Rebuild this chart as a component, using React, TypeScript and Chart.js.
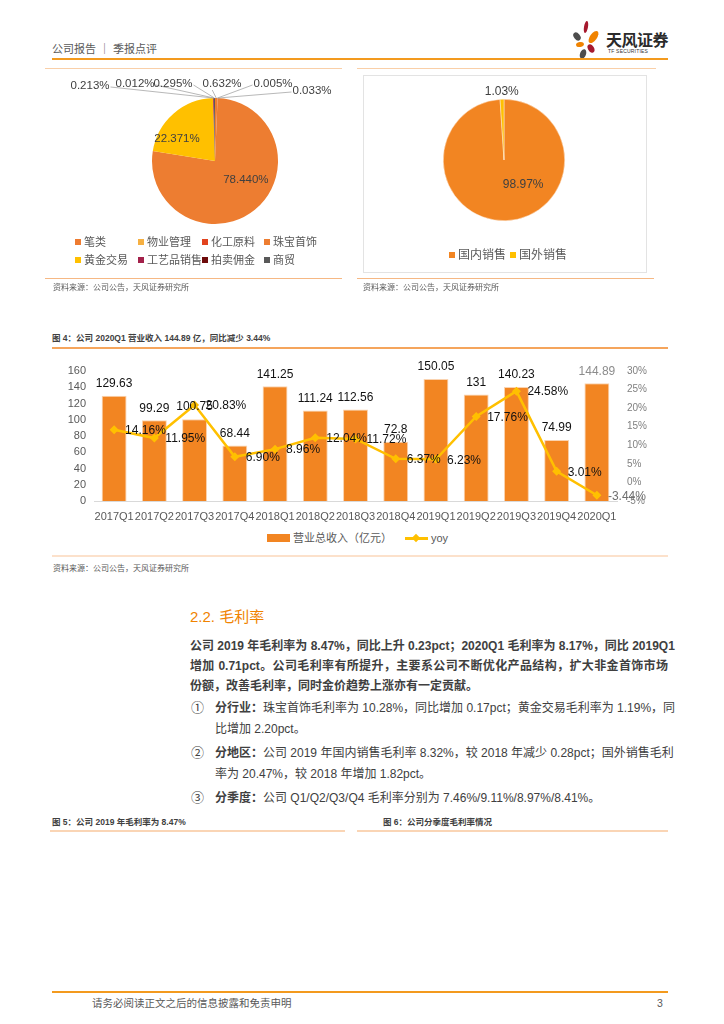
import React, { useEffect, useRef } from "react";
import { Chart, registerables } from "chart.js";

Chart.register(...registerables);

const FONT = '"Liberation Sans", "Noto Sans CJK SC", Arial, sans-serif';

// ---- Pie 1: revenue mix by segment ----
const segmentNames = ["笔类", "物业管理", "化工原料", "珠宝首饰", "黄金交易", "工艺品销售", "拍卖佣金", "商贸"];
const segmentShares = [0.632, 0.005, 0.033, 78.44, 22.371, 0.213, 0.012, 0.295];
const segmentColors = ["#EE7B30", "#F6B042", "#E2431E", "#ED7D31", "#FFC000", "#A3214A", "#6E0B0B", "#595959"];

// ---- Pie 2: domestic vs overseas ----
const regionNames = ["国内销售", "国外销售"];
const regionShares = [98.97, 1.03];
const regionColors = ["#F28522", "#FFC000"];

// ---- Figure 4: revenue and yoy ----
const quarters = [
  "2017Q1", "2017Q2", "2017Q3", "2017Q4",
  "2018Q1", "2018Q2", "2018Q3", "2018Q4",
  "2019Q1", "2019Q2", "2019Q3", "2019Q4",
  "2020Q1",
];
const revenue = [129.63, 99.29, 100.75, 68.44, 141.25, 111.24, 112.56, 72.8, 150.05, 131, 140.23, 74.99, 144.89];
const yoy = [14.16, 11.95, 20.83, 6.9, 8.96, 12.04, 11.72, 6.37, 6.23, 17.76, 24.58, 3.01, -3.44];
const revenueAxis = { min: 0, max: 160, step: 20 };
const yoyAxis = { min: -5, max: 30, step: 5 };
const revenueSeriesName = "营业总收入（亿元）";
const yoySeriesName = "yoy";

const pieLabelPlugin = {
  id: "pieLabels",
  afterDatasetsDraw(chart: any, _args: any, opts: any) {
    const ctx = chart.ctx;
    const meta = chart.getDatasetMeta(0);
    const values = chart.data.datasets[0].data as number[];
    ctx.save();
    ctx.font = opts.font;
    ctx.fillStyle = opts.color;
    ctx.textBaseline = "middle";
    ctx.textAlign = "center";
    meta.data.forEach((arc: any, i: number) => {
      const p = arc.getProps(["x", "y", "startAngle", "endAngle", "outerRadius"], true);
      const mid = (p.startAngle + p.endAngle) / 2;
      const text = values[i].toFixed(opts.decimals) + "%";
      const callout = opts.callouts && opts.callouts[i];
      if (callout) {
        const ax = p.x + Math.cos(mid) * p.outerRadius;
        const ay = p.y + Math.sin(mid) * p.outerRadius;
        const tx = p.x + callout[0];
        const ty = p.y + callout[1];
        const w = ctx.measureText(text).width;
        let sx: number, sy: number;
        if (tx + w / 2 < ax - 10) {
          sx = tx + w / 2 + 1;
          sy = ty + 1;
        } else if (tx - w / 2 > ax + 10) {
          sx = tx - w / 2 - 1;
          sy = ty + 1;
        } else {
          sx = tx - w / 4;
          sy = ty + 6;
        }
        ctx.strokeStyle = opts.leaderColor;
        ctx.lineWidth = 0.8;
        ctx.beginPath();
        ctx.moveTo(sx, sy);
        ctx.lineTo(ax, ay);
        ctx.stroke();
        ctx.fillText(text, tx, ty);
      } else if (opts.outside && opts.outside.includes(i)) {
        const r = p.outerRadius + opts.outsideGap;
        ctx.fillText(text, p.x + Math.cos(mid) * r, p.y + Math.sin(mid) * r);
      } else {
        const r = p.outerRadius * opts.insideFrac;
        const n = (opts.nudge && opts.nudge[i]) || [0, 0];
        ctx.fillText(text, p.x + Math.cos(mid) * r + n[0], p.y + Math.sin(mid) * r + n[1]);
      }
    });
    ctx.restore();
  },
};

const comboLabelPlugin = {
  id: "comboLabels",
  afterDatasetsDraw(chart: any) {
    const ctx = chart.ctx;
    ctx.save();
    ctx.font = '12px "Liberation Sans", Arial, sans-serif';
    ctx.textBaseline = "middle";
    const bars = chart.getDatasetMeta(0).data;
    const barVals = chart.data.datasets[0].data as number[];
    ctx.textAlign = "center";
    bars.forEach((b: any, i: number) => {
      ctx.fillStyle = i === bars.length - 1 ? "#8C8C8C" : "#111";
      ctx.fillText(String(barVals[i]), b.x, b.y - 12);
    });
    const pts = chart.getDatasetMeta(1).data;
    const lineVals = chart.data.datasets[1].data as number[];
    ctx.textAlign = "left";
    pts.forEach((p: any, i: number) => {
      ctx.fillStyle = i === pts.length - 1 ? "#6E6E6E" : "#111";
      ctx.fillText(lineVals[i].toFixed(2) + "%", p.x + 11, p.y + 1);
    });
    ctx.restore();
  },
};

function ChartBox({ style, build }: { style: React.CSSProperties; build: (c: HTMLCanvasElement) => Chart }) {
  const ref = useRef<HTMLCanvasElement>(null);
  useEffect(() => {
    const ch = build(ref.current as HTMLCanvasElement);
    return () => ch.destroy();
  }, []);
  return (
    <div style={{ position: "absolute", ...style }}>
      <canvas ref={ref} />
    </div>
  );
}

function buildSegmentPie(c: HTMLCanvasElement) {
  return new Chart(c, {
    type: "pie",
    data: {
      labels: segmentNames,
      datasets: [{ data: segmentShares, backgroundColor: segmentColors, borderWidth: 0 }],
    },
    options: {
      responsive: true,
      maintainAspectRatio: false,
      animation: false,
      layout: { padding: { left: 107, right: 67, top: 28, bottom: 11 } },
      plugins: {
        legend: { display: false },
        tooltip: { enabled: false },
        pieLabels: {
          font: '11.5px "Liberation Sans", Arial, sans-serif',
          color: "#404040",
          leaderColor: "#A6A6A6",
          decimals: 3,
          insideFrac: 0.6,
          nudge: { 3: [7, -10], 4: [-13, 6] },
          callouts: {
            0: [7, -77],
            1: [58, -77],
            2: [97, -70],
            5: [-125, -75],
            6: [-80, -77],
            7: [-42, -77],
          },
        },
      } as any,
    },
    plugins: [pieLabelPlugin],
  });
}

function buildRegionPie(c: HTMLCanvasElement) {
  return new Chart(c, {
    type: "pie",
    data: {
      labels: regionNames,
      datasets: [{ data: regionShares, backgroundColor: regionColors, borderWidth: 0.5, borderColor: "#FDE9D6" }],
    },
    options: {
      responsive: true,
      maintainAspectRatio: false,
      animation: false,
      layout: { padding: { left: 80, right: 81, top: 24, bottom: 51 } },
      plugins: {
        legend: { display: false },
        tooltip: { enabled: false },
        pieLabels: {
          font: '12px "Liberation Sans", Arial, sans-serif',
          color: "#404040",
          leaderColor: "#A6A6A6",
          decimals: 2,
          insideFrac: 0.6,
          outside: [1],
          outsideGap: 8,
          nudge: { 0: [18, -12] },
        },
      } as any,
    },
    plugins: [pieLabelPlugin],
  });
}

function buildCombo(c: HTMLCanvasElement) {
  return new Chart(c, {
    type: "bar",
    data: {
      labels: quarters,
      datasets: [
        {
          type: "bar",
          label: revenueSeriesName,
          data: revenue,
          backgroundColor: "#F28522",
          borderColor: "#FAD3B0",
          borderWidth: 1,
          yAxisID: "y",
          order: 2,
          categoryPercentage: 1,
          barPercentage: 0.62,
        } as any,
        {
          type: "line",
          label: yoySeriesName,
          data: yoy,
          borderColor: "#FFC000",
          backgroundColor: "#FFC000",
          borderWidth: 2.5,
          pointStyle: "rectRot",
          pointRadius: 4.5,
          pointBorderWidth: 0,
          yAxisID: "y2",
          order: 1,
          tension: 0,
        } as any,
      ],
    },
    options: {
      responsive: true,
      maintainAspectRatio: false,
      animation: false,
      layout: { padding: { top: 10, left: 0, right: 0, bottom: 0 } },
      plugins: { legend: { display: false }, tooltip: { enabled: false } },
      scales: {
        x: {
          grid: { display: false, drawTicks: false },
          border: { color: "#D9D9D9", width: 1 },
          ticks: {
            color: "#595959",
            font: { size: 11, family: FONT },
            maxRotation: 0,
            minRotation: 0,
            autoSkip: false,
            padding: 9,
          },
          afterFit: (s: any) => {
            s.height = 24;
          },
        },
        y: {
          position: "left",
          min: revenueAxis.min,
          max: revenueAxis.max,
          grid: { display: false, drawTicks: false },
          border: { display: false },
          ticks: { stepSize: revenueAxis.step, color: "#595959", font: { size: 11, family: FONT }, padding: 8 },
          afterFit: (s: any) => {
            s.width = 42;
          },
        },
        y2: {
          position: "right",
          min: yoyAxis.min,
          max: yoyAxis.max,
          grid: { display: false, drawTicks: false },
          border: { display: false },
          ticks: {
            stepSize: yoyAxis.step,
            color: "#808080",
            font: { size: 10, family: FONT },
            padding: 10,
            callback: (v: any) => v + "%",
          },
          afterFit: (s: any) => {
            s.width = 51;
          },
        },
      } as any,
    },
    plugins: [comboLabelPlugin],
  });
}

const Txt = ({
  x,
  y,
  size,
  children,
  style,
}: {
  x: number;
  y: number;
  size: number;
  children: React.ReactNode;
  style?: React.CSSProperties;
}) => (
  <div
    style={{
      position: "absolute",
      left: x,
      top: y - size * 0.75,
      fontSize: size,
      lineHeight: `${size * 1.5}px`,
      whiteSpace: "nowrap",
      fontFamily: FONT,
      ...style,
    }}
  >
    {children}
  </div>
);

const HLine = ({ x1, x2, y, h, color }: { x1: number; x2: number; y: number; h: number; color: string }) => (
  <div style={{ position: "absolute", left: x1, top: y - h / 2, width: x2 - x1, height: h, background: color }} />
);

const Petal = ({ x, y, w, h, r, c }: { x: number; y: number; w: number; h: number; r: number; c: string }) => (
  <div
    style={{
      position: "absolute",
      left: x - w / 2,
      top: y - h / 2,
      width: w,
      height: h,
      borderRadius: "50%",
      background: c,
      transform: `rotate(${r}deg)`,
    }}
  />
);

const segLegendCols = [78, 141, 205, 267];
const segLegendRows = [242, 260];

export default function App() {
  const textColor = "#404040";
  const paraStyle: React.CSSProperties = {
    width: 478,
    textAlign: "justify",
    textAlignLast: "justify",
    color: textColor,
    fontWeight: 700,
  };
  const listStyle: React.CSSProperties = {
    width: 453,
    textAlign: "justify",
    textAlignLast: "justify",
    color: textColor,
  };
  return (
    <div
      style={{
        position: "fixed",
        left: 0,
        top: 0,
        width: 724,
        height: 1024,
        background: "#fff",
        overflow: "hidden",
        fontFamily: FONT,
      }}
    >
      {/* header */}
      <Txt x={52} y={49} size={11} style={{ color: "#595959" }}>
        公司报告 ｜ 季报点评
      </Txt>
      <Petal x={586} y={27} w={4} h={12} r={10} c="#A6192E" />
      <Petal x={577} y={36} w={6} h={9} r={-40} c="#4D4D4D" />
      <Petal x={593} y={37} w={7} h={14} r={35} c="#F08300" />
      <Petal x={580} y={44} w={8} h={5} r={-10} c="#F08300" />
      <Petal x={591} y={48} w={6} h={9} r={-30} c="#A6192E" />
      <Petal x={583} y={54} w={6} h={10} r={20} c="#4D4D4D" />
      <Txt x={606} y={41} size={16} style={{ color: "#2B2B2B", fontWeight: 700, letterSpacing: -0.5 }}>
        天风证券
      </Txt>
      <Txt x={608} y={52} size={5} style={{ color: "#333", letterSpacing: 0.2 }}>
        TF SECURITIES
      </Txt>
      <HLine x1={52} x2={668} y={59} h={2.5} color="#F39A1E" />

      <HLine x1={45} x2={342} y={68} h={1} color="#F9CFA8" />
      <HLine x1={357} x2={656} y={68} h={1} color="#F9CFA8" />

      {/* pie 1 */}
      <ChartBox style={{ left: 45, top: 70, width: 300, height: 165 }} build={buildSegmentPie} />
      {segmentNames.map((n, i) => (
        <div key={n}>
          <div
            style={{
              position: "absolute",
              left: segLegendCols[i % 4] - 3,
              top: segLegendRows[Math.floor(i / 4)] - 3,
              width: 6,
              height: 6,
              background: segmentColors[i],
            }}
          />
          <Txt x={segLegendCols[i % 4] + 6} y={segLegendRows[Math.floor(i / 4)]} size={11} style={{ color: "#595959" }}>
            {n}
          </Txt>
        </div>
      ))}
      <HLine x1={45} x2={342} y={278} h={1} color="#F6B884" />
      <Txt x={53} y={288} size={8} style={{ color: "#595959" }}>
        资料来源：公司公告，天风证券研究所
      </Txt>

      {/* pie 2 */}
      <div
        style={{
          position: "absolute",
          left: 363,
          top: 75,
          width: 282,
          height: 196,
          border: "1px solid #E3E3E3",
        }}
      />
      <ChartBox style={{ left: 363, top: 75, width: 283, height: 197 }} build={buildRegionPie} />
      {regionNames.map((n, i) => (
        <div key={n}>
          <div
            style={{
              position: "absolute",
              left: [452, 513][i] - 3,
              top: 255 - 3,
              width: 6,
              height: 6,
              background: regionColors[i],
            }}
          />
          <Txt x={[452, 513][i] + 6} y={255} size={12} style={{ color: "#595959" }}>
            {n}
          </Txt>
        </div>
      ))}
      <HLine x1={357} x2={654} y={278} h={1} color="#F6B884" />
      <Txt x={363} y={288} size={8} style={{ color: "#595959" }}>
        资料来源：公司公告，天风证券研究所
      </Txt>

      {/* figure 4 */}
      <Txt x={52} y={338} size={8.5} style={{ color: "#404040", fontWeight: 700 }}>
        图 4：公司 2020Q1 营业收入 144.89 亿，同比减少 3.44%
      </Txt>
      <HLine x1={52} x2={668} y={348} h={1.5} color="#F5A55C" />
      <ChartBox style={{ left: 52, top: 355, width: 616, height: 170 }} build={buildCombo} />
      <div style={{ position: "absolute", left: 267, top: 534, width: 23, height: 8, background: "#F28522" }} />
      <Txt x={293} y={538} size={11} style={{ color: "#595959" }}>
        {revenueSeriesName}
      </Txt>
      <div style={{ position: "absolute", left: 405, top: 537, width: 23, height: 2.5, background: "#FFC000" }} />
      <div
        style={{
          position: "absolute",
          left: 413,
          top: 535,
          width: 6,
          height: 6,
          background: "#FFC000",
          transform: "rotate(45deg)",
        }}
      />
      <Txt x={431} y={538} size={11} style={{ color: "#595959" }}>
        {yoySeriesName}
      </Txt>
      <HLine x1={52} x2={668} y={556} h={2} color="#FCE1CB" />
      <Txt x={53} y={569} size={8} style={{ color: "#595959" }}>
        资料来源：公司公告，天风证券研究所
      </Txt>

      {/* section text */}
      <Txt x={190} y={617} size={15} style={{ color: "#F08300" }}>
        2.2. 毛利率
      </Txt>
      <Txt x={190} y={646} size={12} style={paraStyle}>
        公司 2019 年毛利率为 8.47%，同比上升 0.23pct；2020Q1 毛利率为 8.17%，同比 2019Q1
      </Txt>
      <Txt x={190} y={666} size={12} style={paraStyle}>
        增加 0.71pct。公司毛利率有所提升，主要系公司不断优化产品结构，扩大非金首饰市场
      </Txt>
      <Txt x={190} y={686} size={12} style={{ ...paraStyle, textAlignLast: "left" }}>
        份额，改善毛利率，同时金价趋势上涨亦有一定贡献。
      </Txt>

      <Txt x={191} y={708} size={13} style={{ color: textColor }}>
        ①
      </Txt>
      <Txt x={215} y={708} size={12} style={listStyle}>
        <b>分行业：</b>珠宝首饰毛利率为 10.28%，同比增加 0.17pct；黄金交易毛利率为 1.19%，同
      </Txt>
      <Txt x={215} y={729} size={12} style={{ ...listStyle, textAlignLast: "left" }}>
        比增加 2.20pct。
      </Txt>
      <Txt x={191} y={753} size={13} style={{ color: textColor }}>
        ②
      </Txt>
      <Txt x={215} y={753} size={12} style={listStyle}>
        <b>分地区：</b>公司 2019 年国内销售毛利率 8.32%，较 2018 年减少 0.28pct；国外销售毛利
      </Txt>
      <Txt x={215} y={774} size={12} style={{ ...listStyle, textAlignLast: "left" }}>
        率为 20.47%，较 2018 年增加 1.82pct。
      </Txt>
      <Txt x={191} y={798} size={13} style={{ color: textColor }}>
        ③
      </Txt>
      <Txt x={215} y={798} size={12} style={{ ...listStyle, textAlignLast: "left" }}>
        <b>分季度：</b>公司 Q1/Q2/Q3/Q4 毛利率分别为 7.46%/9.11%/8.97%/8.41%。
      </Txt>

      <Txt x={52} y={822} size={8.5} style={{ color: "#404040", fontWeight: 700 }}>
        图 5：公司 2019 年毛利率为 8.47%
      </Txt>
      <Txt x={383} y={822} size={8.5} style={{ color: "#404040", fontWeight: 700 }}>
        图 6：公司分季度毛利率情况
      </Txt>
      <HLine x1={50} x2={345} y={831} h={2} color="#FAD5B5" />
      <HLine x1={357} x2={668} y={831} h={2} color="#FAD5B5" />

      {/* footer */}
      <HLine x1={52} x2={668} y={992} h={2.5} color="#F39A1E" />
      <Txt x={92} y={1004} size={10.5} style={{ color: "#595959" }}>
        请务必阅读正文之后的信息披露和免责申明
      </Txt>
      <Txt x={657} y={1004} size={10.5} style={{ color: "#595959" }}>
        3
      </Txt>
    </div>
  );
}
